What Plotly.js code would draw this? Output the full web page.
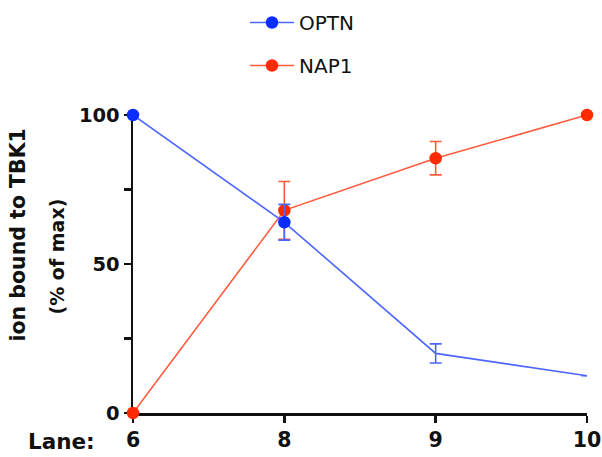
<!DOCTYPE html>
<html>
<head>
<meta charset="utf-8">
<script src="https://cdn.plot.ly/plotly-3.0.1.min.js"></script>
<style>html,body{margin:0;padding:0;background:#fff;}#chart{width:602px;height:457px;}</style>
</head>
<body>
<div id="chart"></div>
<script>
// Data
const lanes = ['6', '8', '9', '10'];
const optn = [100, 64, 20, 12.5];
const optnErr = [0, 6, 3.2, 0];
const nap1 = [0, 68, 85.5, 100];
const nap1Err = [0, 9.7, 5.6, 0];
const optnMarkerShown = [true, true, false, false];
const yTitleLines = ['ion bound to TBK1', '(% of max)'];
const xLabelPrefix = 'Lane:';

const BLUE_M = '#0a2cff', BLUE_L = '#4d66ff';
const RED_M = '#ff2a00', RED_L = '#ff5a3c';

const traces = [
  {
    name: 'NAP1', x: lanes, y: nap1, type: 'scatter', mode: 'lines+markers',
    legendgroup: 'b', legendrank: 2, cliponaxis: false,
    line: {color: RED_L, width: 1.6},
    marker: {color: RED_M, size: 12.5},
    error_y: {type: 'data', array: nap1Err, visible: true, color: RED_L, thickness: 1.6, width: 6}
  },
  {
    name: 'OPTN', x: lanes, y: optn, type: 'scatter', mode: 'lines+markers',
    legendgroup: 'a', legendrank: 1, cliponaxis: false,
    line: {color: BLUE_L, width: 1.6},
    marker: {color: optnMarkerShown.map(s => s ? BLUE_M : 'rgba(0,0,0,0)'), size: 12.5},
    error_y: {type: 'data', array: optnErr, visible: true, color: BLUE_L, thickness: 1.6, width: 6}
  }
];

const L = 133, T = 115, PW = 454, PH = 298;
const px = v => (v - L) / PW;
const py = v => (T + PH - v) / PH;
const boldFont = s => ({family: 'DejaVu Sans', size: s, weight: 'bold', color: '#111'});

const layout = {
  width: 602, height: 457,
  margin: {l: L, r: 15, t: T, b: 44, autoexpand: false},
  paper_bgcolor: '#fff', plot_bgcolor: '#fff',
  font: {family: 'DejaVu Sans', color: '#111'},
  showlegend: true,
  legend: {
    x: px(245), y: py(3), xanchor: 'left', yanchor: 'top',
    font: {family: 'DejaVu Sans', size: 20, color: '#111'}, itemwidth: 44,
    traceorder: 'grouped', tracegroupgap: 14, bgcolor: 'rgba(0,0,0,0)'
  },
  xaxis: {
    type: 'category', range: [0, 3], showgrid: false, zeroline: false,
    showline: true, linecolor: '#111', linewidth: 2.5, layer: 'below traces',
    ticks: 'outside', ticklen: 7, tickwidth: 2.5, tickcolor: '#111',
    tickfont: boldFont(20.5)
  },
  yaxis: {
    range: [0, 100], showgrid: false, zeroline: false,
    showline: true, linecolor: '#111', linewidth: 2.5, layer: 'below traces',
    tickvals: [0, 50, 100],
    ticks: 'outside', ticklen: 7, tickwidth: 2.5, tickcolor: '#111',
    minor: {tickvals: [25, 75], ticks: 'outside', ticklen: 7, tickwidth: 2.5, tickcolor: '#111'},
    tickfont: boldFont(19.5)
  },
  annotations: [
    {text: xLabelPrefix, xref: 'paper', yref: 'paper', x: px(61.5), y: py(441.5),
     xanchor: 'center', yanchor: 'middle', showarrow: false, font: boldFont(21.5)},
    {text: yTitleLines[0], xref: 'paper', yref: 'paper', x: px(17.5), y: py(235), textangle: -90,
     xanchor: 'center', yanchor: 'middle', showarrow: false, font: boldFont(20.5)},
    {text: yTitleLines[1], xref: 'paper', yref: 'paper', x: px(56.5), y: py(257), textangle: -90,
     xanchor: 'center', yanchor: 'middle', showarrow: false, font: boldFont(19)}
  ]
};

Plotly.newPlot('chart', traces, layout, {staticPlot: true, displayModeBar: false});
</script>
</body>
</html>
